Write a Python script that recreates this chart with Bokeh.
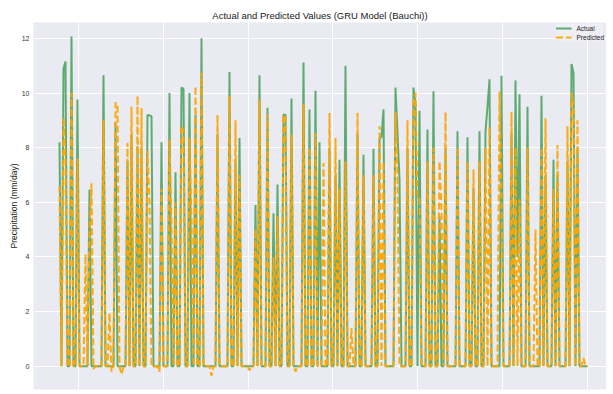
from bokeh.plotting import figure
from bokeh.models import Range1d, FixedTicker, Legend, LegendItem, Grid
from bokeh.embed import file_html
from bokeh.resources import INLINE

# ---- data (day index of test period, precipitation mm/day) ----
N_DAYS = 265
actual_days = [0, 2, 3, 6, 9, 15, 22, 28, 34, 36, 39, 41, 44, 45, 46, 51, 55, 58, 61, 62,
               65, 68, 71, 79, 85, 88, 90, 98, 100, 104, 107, 109, 112, 113, 116, 122, 125,
               128, 130, 135, 138, 140, 143, 149, 152, 157, 160, 161, 162, 168, 169, 170,
               174, 177, 178, 180, 184, 187, 190, 193, 199, 204, 207, 210, 213, 214, 215,
               221, 226, 228, 229, 230, 234, 241, 243, 247, 249, 254, 256, 257, 259]
actual_mm = [8.2, 10.9, 11.15, 12.07, 9.76, 6.47, 10.65, 8.9, 7.5, 8.5, 8.05, 8.0, 9.2, 9.18,
             9.15, 8.2, 10.0, 7.1, 10.2, 10.15, 10.0, 9.2, 12.0, 8.5, 10.77, 7.5, 8.35, 5.9,
             10.65, 9.46, 5.6, 6.65, 9.2, 9.2, 9.8, 11.12, 9.4, 10.08, 8.2, 8.0, 7.0, 7.56,
             11.0, 8.5, 7.74, 7.96, 8.3, 8.4, 9.4, 10.2, 8.5, 6.83, 8.0, 10.2, 9.6, 9.35,
             8.66, 10.06, 5.5, 8.0, 8.6, 8.38, 6.5, 8.6, 8.6, 9.5, 10.5, 10.63, 8.5, 10.46,
             4.0, 9.95, 9.5, 9.9, 7.0, 7.56, 7.0, 7.5, 11.06, 10.73, 8.0]

pred_days = [0, 2, 3, 6, 9, 13, 15, 16, 17, 22, 25, 26, 28, 29, 31, 34, 36, 39, 41, 44, 45,
             50, 51, 55, 56, 58, 61, 62, 65, 66, 68, 71, 76, 79, 85, 88, 90, 95, 98, 100, 104,
             107, 109, 112, 113, 116, 118, 122, 125, 128, 132, 135, 138, 140, 143, 146, 149,
             152, 157, 160, 162, 168, 169, 174, 177, 178, 179, 180, 184, 187, 190, 191, 193,
             199, 204, 207, 210, 213, 215, 220, 221, 226, 228, 230, 234, 238, 241, 243, 247,
             249, 254, 256, 257, 259, 262]
pred_mm = [6.6, 9.1, 7.5, 10.0, 7.6, 4.1, 5.0, 6.7, -0.1, 9.0, 1.95, -0.2, 9.65, 9.6, -0.3,
           8.17, 9.5, 9.9, 9.45, 7.9, 6.0, -0.2, 6.5, 8.3, 5.1, 6.0, 8.8, 8.6, 8.35, 5.3, 10.25,
           10.75, -0.35, 9.2, 9.9, 9.0, 7.0, -0.15, 5.0, 9.75, 9.2, 4.0, 5.5, 9.2, 9.1, 8.5,
           -0.2, 9.6, 8.0, 8.54, 7.44, 9.27, 8.35, 6.5, 7.5, 1.4, 9.27, 7.0, 7.0, 8.78, 7.5,
           9.3, 7.0, 9.0, 9.65, 10.0, 6.2, 6.2, 7.5, 8.0, 7.5, 5.7, 9.3, 8.0, 7.5, 7.2, 7.5,
           8.0, 8.78, 10.05, 6.0, 9.3, 8.0, 6.1, 8.0, 5.0, 8.0, 9.08, 6.5, 8.1, 8.78, 10.0,
           9.5, 9.0, 0.3]

x_ticks = [9.5, 51.9, 94.3, 136.7, 179.1, 221.5, 263.9]
y_ticks = [0, 2, 4, 6, 8, 10, 12]

# full daily series (dry days = 0)
days = list(range(N_DAYS))
actual = [0.0] * N_DAYS
for d, v in zip(actual_days, actual_mm):
    actual[d] = v
predicted = [0.0] * N_DAYS
for d, v in zip(pred_days, pred_mm):
    predicted[d] = v

FONT = "Liberation Sans"

p = figure(width=606, height=392, output_backend="svg", toolbar_location=None,
           x_axis_type=None,
           x_range=Range1d(-13, 273.5), y_range=Range1d(-0.85, 12.58),
           min_border_left=33, min_border_right=0, min_border_bottom=3, min_border_top=22)

p.title.text = "Actual and Predicted Values (GRU Model (Bauchi))"
p.title.align = "center"
p.title.text_font = FONT
p.title.text_font_size = "9.5px"
p.title.text_font_style = "normal"
p.title.text_color = "#1a1a1a"
p.title.standoff = 3

p.background_fill_color = "#EAEAF2"
p.border_fill_color = "white"
p.outline_line_color = None

p.add_layout(Grid(dimension=0, ticker=FixedTicker(ticks=x_ticks),
                  grid_line_color="white", grid_line_width=1))
p.ygrid.ticker = FixedTicker(ticks=y_ticks)
p.ygrid.grid_line_color = "white"
p.ygrid.grid_line_width = 1

p.yaxis.ticker = FixedTicker(ticks=y_ticks)
p.yaxis.axis_line_color = None
p.yaxis.major_tick_line_color = None
p.yaxis.major_tick_out = 0
p.yaxis.major_tick_in = 0
p.yaxis.minor_tick_line_color = None
p.yaxis.major_label_text_font = FONT
p.yaxis.major_label_text_font_size = "7px"
p.yaxis.major_label_text_color = "#333333"
p.yaxis.major_label_standoff = 4
p.yaxis.axis_label = "Precipitation (mm/day)"
p.yaxis.axis_label_text_font = FONT
p.yaxis.axis_label_text_font_size = "8.5px"
p.yaxis.axis_label_text_font_style = "normal"
p.yaxis.axis_label_text_color = "#1a1a1a"
p.yaxis.axis_label_standoff = 0

r_act = p.line(days, actual, line_color="#55A868", line_width=2, line_alpha=0.95)
r_pred = p.line(days, predicted, line_color="#FFA500", line_width=2, line_dash="7 3",
                line_alpha=0.95)

legend = Legend(items=[LegendItem(label="Actual", renderers=[r_act]),
                       LegendItem(label="Predicted", renderers=[r_pred])],
                location="top_right")
legend.label_text_font = FONT
legend.label_text_font_size = "6.5px"
legend.label_text_color = "#1a1a1a"
legend.glyph_width = 16
legend.glyph_height = 8
legend.label_height = 8
legend.spacing = 1
legend.padding = 4
legend.margin = 2
legend.label_standoff = 5
legend.background_fill_color = "#EEEEF4"
legend.background_fill_alpha = 0.85
legend.border_line_color = None
p.add_layout(legend)

open("out.html", "w").write(file_html(p, INLINE))
